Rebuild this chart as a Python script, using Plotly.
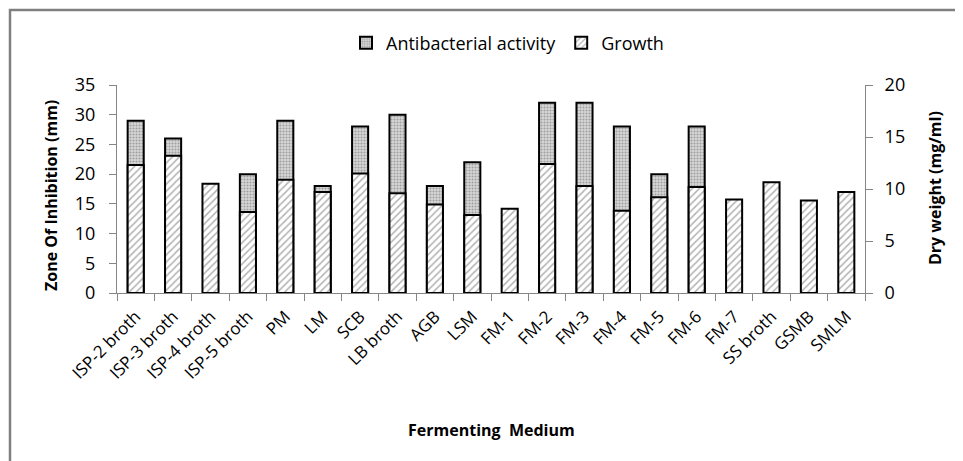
import plotly.graph_objects as go

media = ["ISP-2 broth", "ISP-3 broth", "ISP-4 broth", "ISP-5 broth", "PM", "LM", "SCB",
         "LB broth", "AGB", "LSM", "FM-1", "FM-2", "FM-3", "FM-4", "FM-5", "FM-6", "FM-7",
         "SS broth", "GSMB", "SMLM"]
antibacterial = [29, 26, 0, 20, 29, 18, 28, 30, 18, 22, 0, 32, 32, 28, 20, 28, 0, 0, 0, 0]
growth = [12.3, 13.2, 10.5, 7.8, 10.9, 9.7, 11.5, 9.6, 8.5, 7.5, 8.1, 12.4, 10.3, 7.9, 9.2,
          10.2, 9.0, 10.65, 8.9, 9.7]

FONT = "Open Sans"
OFF = 8                      # page body margin
W, H = 963 - OFF, 461 - OFF
L, T = 117 - OFF, 85 - OFF
pw, ph = 748, 208
R, B = W - L - pw, H - T - ph


def px(x):
    return (x - OFF - L) / pw


def py(y):
    return (T + ph + OFF - y) / ph


fig = go.Figure()
fig.add_trace(go.Bar(
    x=media, y=antibacterial, name="Antibacterial activity", yaxis="y", width=0.43,
    marker=dict(color="white", line=dict(color="black", width=2),
                pattern=dict(shape=".", fgcolor="#666666", bgcolor="#d8d8d8", size=3, solidity=0.4)),
))
fig.add_trace(go.Bar(
    x=media, y=growth, name="Growth", yaxis="y2", width=0.43,
    marker=dict(color="white", line=dict(color="black", width=2),
                pattern=dict(shape="/", fgcolor="#666666", bgcolor="white", size=5, solidity=0.3)),
))

axis_line = "#868686"
fig.update_layout(
    width=W, height=H,
    margin=dict(l=L, r=R, t=T, b=B, autoexpand=False),
    paper_bgcolor="white", plot_bgcolor="white",
    barmode="overlay",
    font=dict(family=FONT, size=17, color="black"),
    legend=dict(orientation="h", x=px(346), xanchor="left", y=py(43), yanchor="middle",
                font=dict(family=FONT, size=18), traceorder="normal", itemwidth=30,
                bgcolor="rgba(0,0,0,0)"),
    xaxis=dict(type="category", tickangle=-45, ticks="outside", tickson="boundaries",
               ticklen=7, tickcolor=axis_line, showline=True, linecolor=axis_line, linewidth=1,
               showgrid=False, tickfont=dict(family=FONT, size=17), ticklabelstandoff=6),
    yaxis=dict(range=[0, 35], dtick=5, ticks="outside", ticklen=7, tickcolor=axis_line,
               showline=True, linecolor=axis_line, showgrid=False, zeroline=False,
               tickfont=dict(family=FONT, size=18), ticklabelstandoff=10),
    yaxis2=dict(range=[0, 20], dtick=5, overlaying="y", side="right", ticks="outside", ticklen=7,
                tickcolor=axis_line, showline=True, linecolor=axis_line, showgrid=False, zeroline=False,
                tickfont=dict(family=FONT, size=18), ticklabelstandoff=8),
)

title_font = dict(family=FONT, size=16, color="black")
fig.add_annotation(text="<b>Zone Of Inhibition (mm)</b>", xref="paper", yref="paper",
                   x=px(51), y=py(196), textangle=-90, showarrow=False, font=title_font,
                   xanchor="center", yanchor="middle")
fig.add_annotation(text="<b>Dry weight (mg/ml)</b>", xref="paper", yref="paper",
                   x=px(935), y=py(188), textangle=-90, showarrow=False, font=title_font,
                   xanchor="center", yanchor="middle")
fig.add_annotation(text="<b>Fermenting  Medium</b>", xref="paper", yref="paper",
                   x=px(491), y=py(430), showarrow=False, font=title_font,
                   xanchor="center", yanchor="middle")

# outer chart border
fig.add_shape(type="rect", xref="paper", yref="paper",
              x0=px(10), x1=px(980), y0=py(480), y1=py(10),
              line=dict(color="#808080", width=2.5), fillcolor="rgba(0,0,0,0)", layer="below")

fig.write_html("out.html")
